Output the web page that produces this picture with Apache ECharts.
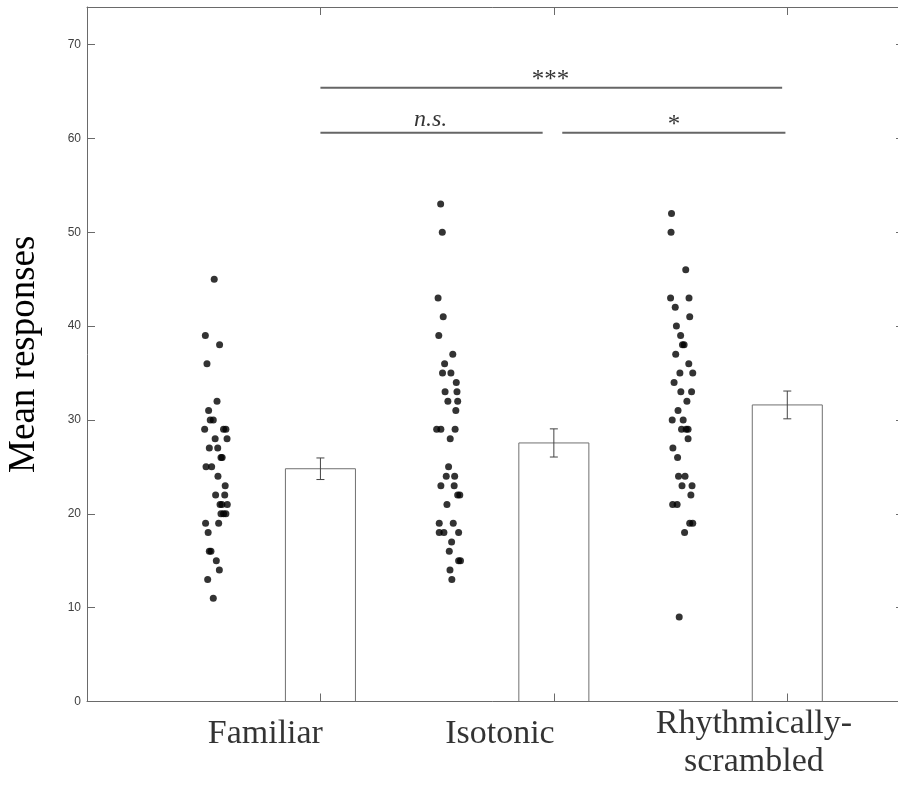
<!DOCTYPE html>
<html>
<head>
    <meta http-equiv="Content-Type" content="text/html; charset=utf-8"/>
    <title>Mean responses</title>
    <style>
        html, body { margin: 0; padding: 0; background: #fff; }
        #main { width: 898px; height: 789px; }
    </style>
    <script src="https://cdn.jsdelivr.net/npm/echarts@6/dist/echarts.min.js"></script>
</head>
<body>
<div id="main"></div>
<script type="text/javascript">
    // conditions
    var categories = ['Familiar', 'Isotonic', 'Rhythmically-\nscrambled'];
    var barPos = [1, 2, 3];
    var means = [24.8, 27.55, 31.6];
    var sems = [1.15, 1.5, 1.48];
    // where the condition names sit (data units)
    var catLabelX = [0.764, 1.769, 2.857];
    var catLabelY = [-3.5, -3.5, -4.47];

    // individual participants [jittered x, mean response]
    var familiarPts = [[0.545,45],[0.507,39],[0.568,38],[0.514,36],[0.557,32],[0.521,31],[0.528,30],[0.541,30],
        [0.504,29],[0.585,29],[0.595,29],[0.549,28],[0.600,28],[0.524,27],[0.560,27],[0.574,26],[0.579,26],
        [0.510,25],[0.534,25],[0.561,24],[0.592,23],[0.551,22],[0.590,22],[0.570,21],[0.578,21],[0.601,21],
        [0.574,20],[0.585,20],[0.595,20],[0.508,19],[0.564,19],[0.519,18],[0.524,16],[0.531,16],[0.554,15],
        [0.567,14],[0.517,13],[0.541,11]];
    var isotonicPts = [[1.515,53],[1.522,50],[1.504,43],[1.526,41],[1.507,39],[1.567,37],[1.532,36],[1.523,35],
        [1.559,35],[1.582,34],[1.534,33],[1.585,33],[1.546,32],[1.588,32],[1.580,31],[1.498,29],[1.516,29],
        [1.577,29],[1.556,28],[1.549,25],[1.539,24],[1.575,24],[1.516,23],[1.573,23],[1.588,22],[1.597,22],
        [1.542,21],[1.509,19],[1.569,19],[1.509,18],[1.529,18],[1.592,18],[1.562,17],[1.552,16],[1.592,15],
        [1.600,15],[1.555,14],[1.563,13]];
    var rhythmPts = [[2.504,52],[2.502,50],[2.565,46],[2.500,43],[2.579,43],[2.520,42],[2.582,41],[2.525,40],
        [2.543,39],[2.551,38],[2.558,38],[2.522,37],[2.578,36],[2.540,35],[2.595,35],[2.515,34],[2.544,33],
        [2.590,33],[2.570,32],[2.532,31],[2.507,30],[2.554,30],[2.547,29],[2.567,29],[2.575,29],[2.575,28],
        [2.510,27],[2.530,26],[2.534,24],[2.562,24],[2.549,23],[2.592,23],[2.587,22],[2.509,21],[2.528,21],
        [2.582,19],[2.595,19],[2.560,18],[2.537,9]];

    // significance brackets
    var sigX0 = [1, 1, 2.036];
    var sigX1 = [2.978, 1.952, 2.992];
    var sigY = [65.4, 60.6, 60.6];
    var sigText = ['***', 'n.s.', '*'];
    var sigTextX = [1.986, 1.472, 2.515];
    var sigTextY = [66.2, 62.0, 61.4];

    var yTicks = [0, 10, 20, 30, 40, 50, 60, 70];

    var myChart = echarts.init(document.getElementById('main'));

    var axisGray = '#6a6a6a';
    var serif = '"Liberation Serif", "DejaVu Serif", serif';

    var barData = [];
    for (var i = 0; i < barPos.length; i++) {
        barData.push([barPos[i], means[i], sems[i]]);
    }

    var catData = [];
    for (var i = 0; i < categories.length; i++) {
        catData.push({ value: [catLabelX[i], catLabelY[i]], name: categories[i] });
    }

    var sigSeries = [];
    var sigLabelData = [];
    for (var i = 0; i < sigText.length; i++) {
        sigSeries.push({
            type: 'line',
            data: [[sigX0[i], sigY[i]], [sigX1[i], sigY[i]]],
            symbol: 'none',
            silent: true,
            lineStyle: { color: '#666', width: 2 },
            z: 3
        });
        sigLabelData.push({
            value: [sigTextX[i], sigTextY[i]],
            name: sigText[i],
            label: {
                fontStyle: sigText[i] === 'n.s.' ? 'italic' : 'normal',
                fontSize: sigText[i] === 'n.s.' ? 24 : 25
            }
        });
    }

    function commonX(pos) {
        return {
            type: 'value',
            position: pos,
            min: 0,
            max: 3.5,
            interval: 1,
            z: 10,
            axisLine: { show: true, onZero: false, lineStyle: { color: axisGray, width: 1 } },
            axisTick: { show: true, inside: true, length: 8, lineStyle: { color: axisGray } },
            axisLabel: { show: false },
            splitLine: { show: false }
        };
    }

    option = {
        animation: false,
        backgroundColor: '#fff',
        grid: { left: 87, top: 7, width: 817, height: 694.5, outerBoundsMode: 'none', containLabel: false },
        xAxis: [commonX('bottom'), commonX('top')],
        yAxis: [
            {
                type: 'value',
                position: 'left',
                min: 0,
                max: 74,
                interval: 10,
                z: 10,
                name: 'Mean responses',
                nameLocation: 'middle',
                nameGap: 44,
                nameTextStyle: { fontFamily: serif, fontSize: 37, color: '#000' },
                axisLine: { show: true, onZero: false, lineStyle: { color: axisGray } },
                axisTick: { show: true, inside: true, length: 8, lineStyle: { color: axisGray } },
                axisLabel: {
                    margin: 6,
                    showMaxLabel: false,
                    fontFamily: '"Liberation Sans", Arial, sans-serif',
                    fontSize: 12,
                    color: '#404040',
                    formatter: function (v) { return yTicks.indexOf(v) >= 0 ? String(v) : ''; }
                },
                splitLine: { show: false }
            },
            {
                type: 'value',
                position: 'right',
                min: 0,
                max: 74,
                interval: 10,
                z: 10,
                axisLine: { show: true, onZero: false, lineStyle: { color: axisGray } },
                axisTick: { show: true, inside: true, length: 8, lineStyle: { color: axisGray } },
                axisLabel: { show: false },
                splitLine: { show: false }
            }
        ],
        series: [
            {
                name: 'means',
                type: 'custom',
                data: barData,
                silent: true,
                z: 2,
                renderItem: function (params, api) {
                    var x = api.value(0), m = api.value(1), se = api.value(2);
                    var topPt = api.coord([x, m]);
                    var basePt = api.coord([x, 0]);
                    var w = api.size([0.3, 0])[0];
                    var hi = api.coord([x, m + se]);
                    var lo = api.coord([x, m - se]);
                    var cap = 4;
                    return {
                        type: 'group',
                        children: [
                            { type: 'rect', shape: { x: topPt[0] - w / 2, y: topPt[1], width: w, height: basePt[1] - topPt[1] },
                              style: { fill: '#fff', stroke: '#707070', lineWidth: 1 } },
                            { type: 'line', shape: { x1: hi[0], y1: hi[1], x2: lo[0], y2: lo[1] },
                              style: { stroke: '#444', lineWidth: 1 } },
                            { type: 'line', shape: { x1: hi[0] - cap, y1: hi[1], x2: hi[0] + cap, y2: hi[1] },
                              style: { stroke: '#444', lineWidth: 1 } },
                            { type: 'line', shape: { x1: lo[0] - cap, y1: lo[1], x2: lo[0] + cap, y2: lo[1] },
                              style: { stroke: '#444', lineWidth: 1 } }
                        ]
                    };
                }
            },
            { name: 'Familiar', type: 'scatter', data: familiarPts, symbolSize: 7, itemStyle: { color: '#000' }, z: 4 },
            { name: 'Isotonic', type: 'scatter', data: isotonicPts, symbolSize: 7, itemStyle: { color: '#000' }, z: 4 },
            { name: 'Rhythmically-scrambled', type: 'scatter', data: rhythmPts, symbolSize: 7, itemStyle: { color: '#000' }, z: 4 },
            {
                name: 'conditions',
                type: 'scatter',
                data: catData,
                clip: false,
                silent: true,
                symbolSize: 1,
                itemStyle: { color: 'rgba(0,0,0,0)' },
                label: {
                    show: true,
                    position: 'inside',
                    formatter: '{b}',
                    fontFamily: serif,
                    fontSize: 34,
                    lineHeight: 38,
                    color: '#000',
                    align: 'center',
                    verticalAlign: 'middle'
                }
            },
            {
                name: 'sigLabels',
                type: 'scatter',
                data: sigLabelData,
                clip: false,
                silent: true,
                symbolSize: 1,
                itemStyle: { color: 'rgba(0,0,0,0)' },
                label: {
                    show: true,
                    position: 'inside',
                    formatter: '{b}',
                    fontFamily: serif,
                    color: '#000',
                    align: 'center',
                    verticalAlign: 'middle'
                },
                z: 5
            }
        ].concat(sigSeries)
    };
    myChart.setOption(option);
</script>
</body>
</html>
